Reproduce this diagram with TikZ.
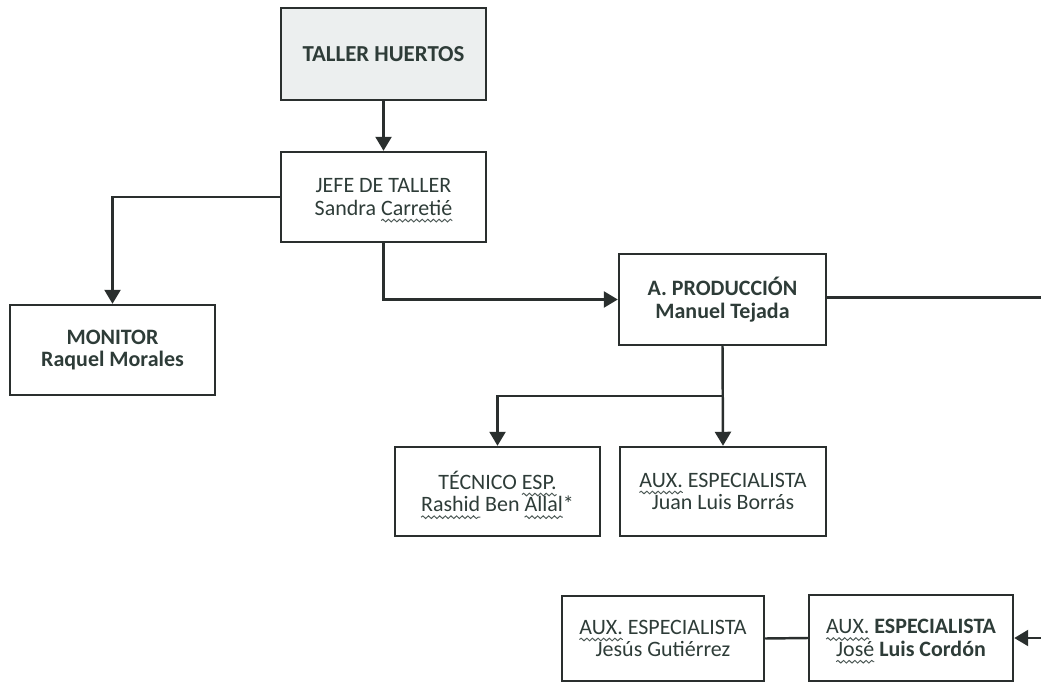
\documentclass[tikz,border=0pt]{standalone}
\usepackage{fontspec}
\setmainfont{Carlito}
\usepackage{tikz}
\usetikzlibrary{arrows.meta, positioning, calc, decorations.pathmorphing}
\definecolor{org_line}{RGB}{42, 47, 46}
\definecolor{org_text}{RGB}{46, 60, 56}
\definecolor{org_fill}{RGB}{236, 239, 239}
% wavy spell-check underline
\newsavebox\wavybox
\newlength\wavylen
\newcommand\wavyword[1]{\sbox\wavybox{#1}\setlength\wavylen{\wd\wavybox}%
  \rlap{\tikz[baseline=0pt]{\useasboundingbox (0,0);
    \draw[overlay, org_text!85, line width=0.55pt, decorate,
          decoration={snake, amplitude=0.75pt, segment length=3.2pt}]
      (0,-3pt) -- (\wavylen,-3pt);}}\usebox\wavybox}
\begin{document}
\begin{tikzpicture}[font=\fontsize{12.5}{12.9}\selectfont,
      box/.style={draw=org_line, line width=1.4pt, align=center,
                  text=org_text, inner sep=0pt,
                  minimum width=4.1cm, minimum height=1.8cm},
      arr/.style={-{Triangle[width=0.32cm, length=0.28cm]}, line width=1.4pt, org_line},
      lnk/.style={line width=1.4pt, org_line}]
      \useasboundingbox (0,0) rectangle (20.82,-13.66);
      \node[box, fill=org_fill, minimum height=1.84cm] (taller) at (7.67,-1.08)
        {\fontsize{13}{13}\selectfont\textbf{TALLER HUERTOS}};
      \node[box] (jefe)    at (7.67,-3.94)  {JEFE DE TALLER\\Sandra \wavyword{Carretié}};
      \node[box] (monitor) at (2.25,-7.0)   {\textbf{MONITOR}\\\textbf{Raquel Morales}};
      \node[box, minimum width=4.14cm, minimum height=1.82cm] (prod) at (14.45,-5.99)
        {\textbf{A. PRODUCCIÓN}\\\textbf{Manuel Tejada}};
      \node[box, minimum height=1.78cm] (tecnico) at (9.95,-9.83)
        {TÉCNICO \wavyword{ESP.}\\\wavyword{Rashid} Ben \wavyword{Allal}*};
      \node[box, minimum width=4.12cm, minimum height=1.78cm] (juan) at (14.46,-9.83)
        {\wavyword{AUX.} ESPECIALISTA\\Juan Luis Borrás};
      \node[box, minimum width=4.04cm, minimum height=1.7cm] (jesus) at (13.26,-12.77)
        {\wavyword{AUX.} ESPECIALISTA\\Jesús Gutiérrez};
      \node[box, minimum width=4.08cm, minimum height=1.72cm] (jose) at (18.22,-12.76)
        {\wavyword{AUX.} \textbf{ESPECIALISTA}\\\wavyword{José} \textbf{Luis Cordón}};
      \coordinate (edgeA) at (20.82,-5.95);
      \coordinate (edgeB) at (20.82,-12.76);
      \coordinate (split) at (14.45,-7.92);
      \draw[arr] (taller) -- (jefe);
      \draw[arr] (jefe.west) -| (monitor.north);
      \draw[arr] (jefe.south) |- (prod.west);
      \draw[lnk] (prod.east |- edgeA) -- (edgeA);
      \draw[arr] (prod.south) -- (juan.north);
      \draw[arr] (split) -| (tecnico.north);
      \draw[arr] (edgeB) -- (jose.east);
      \draw[lnk] (jesus.east) -- (jose.west);
    \end{tikzpicture}
\end{document}
